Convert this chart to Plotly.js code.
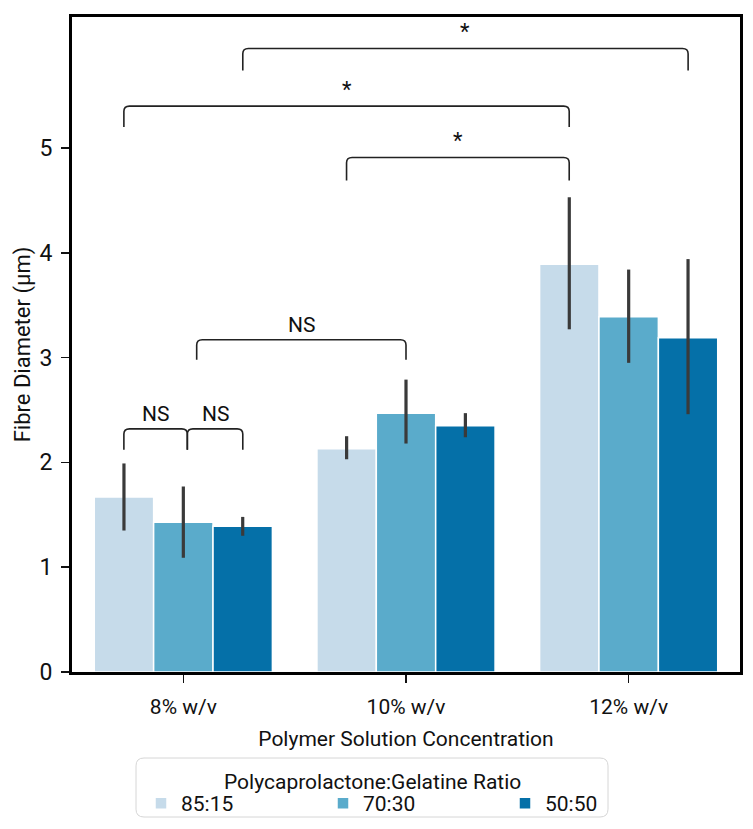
<!DOCTYPE html>
<html>
<head>
<meta charset="utf-8">
<script src="https://cdn.plot.ly/plotly-3.0.1.min.js"></script>
<style>html,body{margin:0;padding:0;background:#fff;}#chart{width:753px;height:829px;}</style>
</head>
<body>
<div id="chart"></div>
<script>
// ---- data ----
const categories = ["8% w/v", "10% w/v", "12% w/v"];
const categoryPos = [0, 1, 2];
const seriesNames = ["85:15", "70:30", "50:50"];
const seriesColors = ["#c6dbea", "#5aabcb", "#0570a8"];
const mean_85_15 = [1.67, 2.13, 3.89];
const mean_70_30 = [1.43, 2.47, 3.39];
const mean_50_50 = [1.39, 2.35, 3.19];
const lo_85_15 = [1.35, 2.03, 3.27];
const hi_85_15 = [1.99, 2.25, 4.53];
const lo_70_30 = [1.09, 2.18, 2.95];
const hi_70_30 = [1.77, 2.79, 3.84];
const lo_50_50 = [1.30, 2.24, 2.46];
const hi_50_50 = [1.48, 2.47, 3.94];
const yTicks = [0, 1, 2, 3, 4, 5];
const legendTitle = "Polycaprolactone:Gelatine Ratio";

// significance brackets: x in data units (category index + bar offset), y in µm
const bracketX0 = [0.267, -0.267, 0.733, 0.06, -0.267, 0.018];
const bracketX1 = [2.267, 1.733, 1.733, 1.0, 0.018, 0.267];
const bracketTop = [5.95, 5.40, 4.91, 3.17, 2.32, 2.32];
const bracketBottom = [5.74, 5.20, 4.69, 2.98, 2.12, 2.12];
const bracketLabel = ["*", "*", "*", "NS", "NS", "NS"];
const bracketLabelY = [5.97, 5.42, 4.93, 3.18, 2.33, 2.33];

const means = [mean_85_15, mean_70_30, mean_50_50];
const los = [lo_85_15, lo_70_30, lo_50_50];
const his = [hi_85_15, hi_70_30, hi_50_50];

const FONT = "Roboto, 'DejaVu Sans', sans-serif";

const traces = seriesNames.map((name, i) => ({
  type: "bar",
  name: name,
  x: categoryPos,
  y: means[i],
  marker: { color: seriesColors[i], line: { color: "#ffffff", width: 1.5 } },
  error_y: {
    type: "data",
    symmetric: false,
    array: his[i].map((h, k) => h - means[i][k]),
    arrayminus: los[i].map((l, k) => means[i][k] - l),
    color: "#3a3a3a",
    thickness: 3.2,
    width: 0
  },
  hoverinfo: "skip"
}));

const shapes = [];
const annotations = [];
for (let i = 0; i < bracketX0.length; i++) {
  const x0 = bracketX0[i], x1 = bracketX1[i];
  const yt = bracketTop[i], yb = bracketBottom[i];
  const dx = 0.025, dy = 0.05;
  shapes.push({
    type: "path", xref: "x", yref: "y",
    path: `M ${x0},${yb} L ${x0},${yt - dy} Q ${x0},${yt} ${x0 + dx},${yt} L ${x1 - dx},${yt} Q ${x1},${yt} ${x1},${yt - dy} L ${x1},${yb}`,
    line: { color: "#222222", width: 1.6 }
  });
  annotations.push({
    x: (x0 + x1) / 2, y: bracketLabelY[i], xref: "x", yref: "y",
    text: bracketLabel[i], showarrow: false, yanchor: "bottom",
    font: { family: FONT, size: bracketLabel[i] === "*" ? 22 : 21, color: "#111" }
  });
}

// legend frame (rounded) and legend title
const lx0 = (136 - 72) / 668, lx1 = (608 - 72) / 668;
const ly0 = (672 - 817) / 655, ly1 = (672 - 758) / 655;
const r = 0.012;
shapes.push({
  type: "path", xref: "paper", yref: "paper",
  path: `M ${lx0 + r},${ly1} L ${lx1 - r},${ly1} Q ${lx1},${ly1} ${lx1},${ly1 - r} L ${lx1},${ly0 + r} Q ${lx1},${ly0} ${lx1 - r},${ly0} L ${lx0 + r},${ly0} Q ${lx0},${ly0} ${lx0},${ly0 + r} L ${lx0},${ly1 - r} Q ${lx0},${ly1} ${lx0 + r},${ly1} Z`,
  line: { color: "#d6d6d6", width: 1 }, fillcolor: "rgba(255,255,255,0)"
});
annotations.push({
  xref: "paper", yref: "paper", x: (lx0 + lx1) / 2, y: (672 - 782) / 655,
  xanchor: "center", yanchor: "middle", showarrow: false,
  text: legendTitle, font: { family: FONT, size: 21, color: "#111" }
});

const layout = {
  width: 753, height: 829,
  margin: { l: 72, r: 13, t: 17, b: 157 },
  paper_bgcolor: "#ffffff", plot_bgcolor: "#ffffff",
  font: { family: FONT, size: 20, color: "#111" },
  barmode: "group", bargap: 0.2, bargroupgap: 0,
  showlegend: true,
  xaxis: {
    range: [-0.5, 2.5], automargin: false,
    tickvals: categoryPos, ticktext: categories,
    ticks: "outside", ticklen: 8, tickwidth: 1.5, tickcolor: "#111",
    ticklabelstandoff: 6,
    showline: true, linecolor: "#000", linewidth: 3, mirror: true,
    showgrid: false, zeroline: false,
    tickfont: { size: 21 },
    title: { text: "Polymer Solution Concentration", font: { size: 21 }, standoff: 14 }
  },
  yaxis: {
    range: [0, 6.25], automargin: false,
    tickvals: yTicks,
    ticks: "outside", ticklen: 8, tickwidth: 1.5, tickcolor: "#111",
    ticklabelstandoff: 4,
    showline: true, linecolor: "#000", linewidth: 3, mirror: true,
    showgrid: false, zeroline: false,
    tickfont: { size: 23 },
    title: { text: "Fibre Diameter (µm)", font: { size: 22 }, standoff: 3 }
  },
  legend: {
    orientation: "h",
    xref: "container", yref: "container",
    x: 141 / 753, xanchor: "left", y: 1 - 783 / 829, yanchor: "top",
    bgcolor: "rgba(0,0,0,0)", borderwidth: 0,
    entrywidth: 137, entrywidthmode: "pixels",
    font: { size: 21 },
    traceorder: "normal"
  },
  shapes: shapes,
  annotations: annotations
};

Plotly.newPlot("chart", traces, layout, { displayModeBar: false, staticPlot: true });
</script>
</body>
</html>
